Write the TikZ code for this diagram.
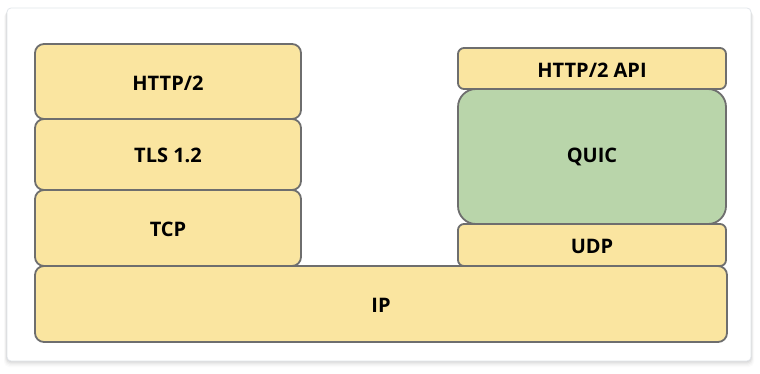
\documentclass[tikz,border=0pt]{standalone}
\usepackage{fontspec}
\setmainfont{Open Sans}
\definecolor{ylw}{HTML}{FAE5A0}
\definecolor{grn}{HTML}{B9D5AA}
\definecolor{edge}{HTML}{6E6E6E}
\definecolor{cardedge}{HTML}{E2E6EB}
\tikzset{
  layer/.style={draw=edge, line width=1.8pt, fill=ylw, rounded corners=#1},
  layer/.default=9pt,
  lbl/.style={font=\bfseries\fontsize{20}{24}\selectfont, text=black, inner sep=0pt}
}
\begin{document}
\begin{tikzpicture}[x=1pt,y=-1pt]
\useasboundingbox (0,0) rectangle (760,373);
\fill[white] (0,0) rectangle (760,373);
% shadow
\foreach \i/\o in {1/0.05,2/0.04,3/0.03,4/0.02,5/0.015}{
  \fill[black,opacity=\o,rounded corners=5pt] (7-\i*0.6,8+\i*0.8) rectangle (751+\i*0.6,361+\i*1.2);
}
\filldraw[fill=white,draw=cardedge,line width=0.8pt,rounded corners=4pt] (7,8) rectangle (751,361);
% left stack
\draw[layer] (35,44) rectangle (301,119);
\node[lbl] (http) at (168,83) {HTTP/2};
\draw[layer] (35,119) rectangle (301,190);
\node[lbl] (tls) at (168,155) {TLS 1.2};
\draw[layer] (35,190) rectangle (301,266);
\node[lbl] (tcp) at (168,229) {TCP};
% right stack
\draw[layer=6pt] (458,48) rectangle (726,89);
\node[lbl] (api) at (592,70) {HTTP/2 API};
\draw[layer=18pt, fill=grn] (458,89) rectangle (726,224);
\node[lbl] (quic) at (592,157) {QUIC};
\draw[layer=6pt] (458,224) rectangle (726,266);
\node[lbl] (udp) at (592,246) {UDP};
% IP
\draw[layer] (35,266) rectangle (727,342);
\node[lbl] (ip) at (381,305) {IP};
\end{tikzpicture}
\end{document}
